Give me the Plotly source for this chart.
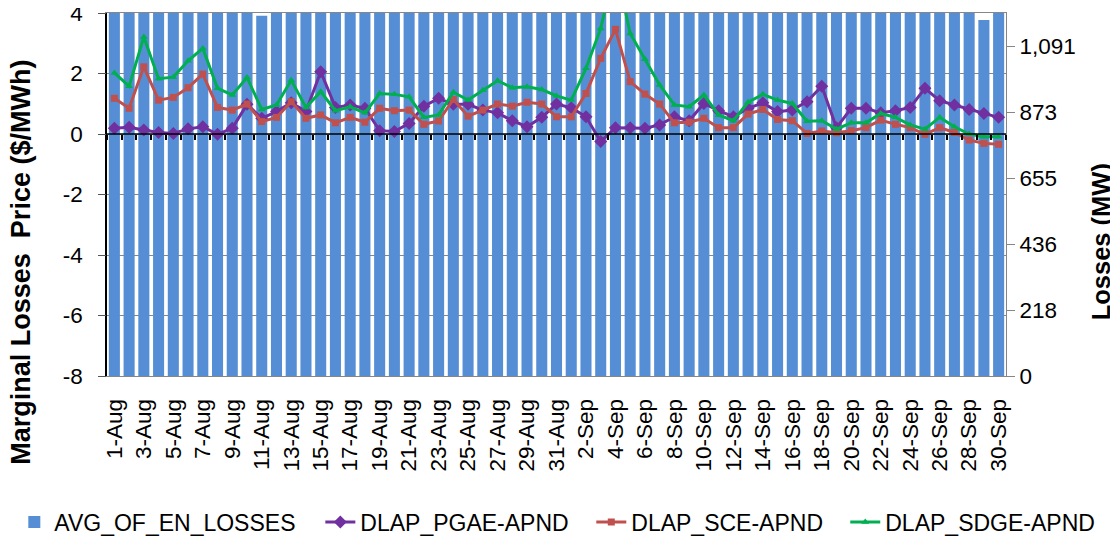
import plotly.graph_objects as go

dates = ["1-Aug", "2-Aug", "3-Aug", "4-Aug", "5-Aug", "6-Aug", "7-Aug", "8-Aug", "9-Aug", "10-Aug",
         "11-Aug", "12-Aug", "13-Aug", "14-Aug", "15-Aug", "16-Aug", "17-Aug", "18-Aug", "19-Aug", "20-Aug",
         "21-Aug", "22-Aug", "23-Aug", "24-Aug", "25-Aug", "26-Aug", "27-Aug", "28-Aug", "29-Aug", "30-Aug",
         "31-Aug", "1-Sep", "2-Sep", "3-Sep", "4-Sep", "5-Sep", "6-Sep", "7-Sep", "8-Sep", "9-Sep",
         "10-Sep", "11-Sep", "12-Sep", "13-Sep", "14-Sep", "15-Sep", "16-Sep", "17-Sep", "18-Sep", "19-Sep",
         "20-Sep", "21-Sep", "22-Sep", "23-Sep", "24-Sep", "25-Sep", "26-Sep", "27-Sep", "28-Sep", "29-Sep",
         "30-Sep"]

avg_losses = [1230, 1225, 1240, 1235, 1230, 1245, 1250, 1225, 1220, 1230,
              1191, 1215, 1230, 1220, 1240, 1225, 1230, 1220, 1215, 1225,
              1230, 1240, 1245, 1250, 1245, 1240, 1250, 1245, 1235, 1230,
              1225, 1240, 1255, 1260, 1265, 1250, 1240, 1230, 1225, 1220,
              1230, 1225, 1215, 1225, 1235, 1230, 1225, 1220, 1215, 1210,
              1220, 1225, 1230, 1225, 1220, 1215, 1210, 1205, 1205, 1177,
              1205]

pgae = [0.19, 0.22, 0.13, 0.05, 0.02, 0.17, 0.24, -0.01, 0.19, 0.98,
        0.52, 0.74, 1.03, 0.74, 2.06, 0.88, 0.96, 0.85, 0.11, 0.08,
        0.35, 0.92, 1.18, 0.98, 0.98, 0.79, 0.70, 0.44, 0.24, 0.55,
        0.99, 0.87, 0.57, -0.25, 0.21, 0.21, 0.19, 0.30, 0.57, 0.44,
        1.01, 0.77, 0.57, 0.85, 1.03, 0.74, 0.79, 1.07, 1.58, 0.21,
        0.85, 0.85, 0.70, 0.77, 0.88, 1.51, 1.10, 0.96, 0.81, 0.68,
        0.55]

sce = [1.18, 0.85, 2.22, 1.12, 1.21, 1.53, 1.98, 0.88, 0.79, 0.99,
       0.41, 0.55, 1.07, 0.52, 0.63, 0.37, 0.55, 0.39, 0.85, 0.77,
       0.79, 0.32, 0.43, 1.14, 0.59, 0.79, 0.99, 0.92, 1.05, 0.99,
       0.57, 0.57, 1.34, 2.50, 3.46, 1.73, 1.32, 0.99, 0.37, 0.39,
       0.52, 0.21, 0.21, 0.66, 0.81, 0.48, 0.44, 0.02, 0.10, 0.04,
       0.11, 0.21, 0.46, 0.32, 0.21, -0.01, 0.21, 0.05, -0.20, -0.31,
       -0.34]

sdge = [2.02, 1.58, 3.21, 1.83, 1.88, 2.42, 2.83, 1.51, 1.29, 1.87,
        0.81, 0.96, 1.78, 0.88, 1.40, 0.77, 0.90, 0.70, 1.34, 1.31,
        1.23, 0.55, 0.63, 1.38, 1.12, 1.45, 1.76, 1.53, 1.56, 1.47,
        1.26, 1.12, 2.17, 3.49, 5.60, 3.32, 2.47, 1.62, 0.96, 0.90,
        1.29, 0.63, 0.44, 1.05, 1.31, 1.12, 1.01, 0.42, 0.44, 0.16,
        0.37, 0.37, 0.68, 0.55, 0.30, 0.16, 0.55, 0.24, 0.00, -0.09,
        -0.09]

left_ticks = [-8, -6, -4, -2, 0, 2, 4]
left_ticktext = ["-8", "-6", "-4", "-2", "0", "2", "4"]
right_max = 1200
right_tickvals = [0, 218.18, 436.36, 654.55, 872.73, 1090.91]
right_ticktext = ["0", "218", "436", "655", "873", "1,091"]
x_label_dates = dates[::2]

FONT = "Arial, Liberation Sans, sans-serif"
TICK_FS = 22.5
LEG_FS = 23

fig = go.Figure()

fig.add_trace(go.Bar(
    x=dates, y=avg_losses, name="AVG_OF_EN_LOSSES", legend="legend",
    marker=dict(color="#558ED5", line=dict(width=0)),
    xaxis="x", yaxis="y",
))

series = [
    ("DLAP_PGAE-APND", pgae, "#7030A0", "diamond", 10, "legend2"),
    ("DLAP_SCE-APND", sce, "#C0504D", "square", 7, "legend3"),
    ("DLAP_SDGE-APND", sdge, "#00B050", "triangle-up", 7, "legend4"),
]
for name, vals, col, sym, size, leg in series:
    fig.add_trace(go.Scatter(
        x=dates, y=vals, name=name, mode="lines+markers", legend=leg,
        line=dict(color=col, width=3),
        marker=dict(symbol=sym, size=size, color=col),
        xaxis="x", yaxis="y2",
    ))

# invisible helper trace: carries the tick-only axes (category ticks on the zero line, left tick marks)
fig.add_trace(go.Scatter(
    x=dates, y=pgae, mode="lines", line=dict(width=0), opacity=0,
    showlegend=False, hoverinfo="skip", xaxis="x3", yaxis="y3",
))


def leg(x):
    return dict(orientation="h", x=x, xanchor="left", y=-0.402, yanchor="middle",
                font=dict(size=LEG_FS, family=FONT), bgcolor="rgba(0,0,0,0)")


# page body has an 8px margin: figure is sized/offset so the plot lands where the reference has it
fig.update_layout(
    width=1110, height=529, autosize=False,
    margin=dict(l=99, r=112, t=5, b=161, autoexpand=False),
    plot_bgcolor="white", paper_bgcolor="white",
    font=dict(family=FONT, size=TICK_FS, color="black"),
    bargap=0.25,
    showlegend=True,
    legend=leg(-0.1031), legend2=leg(0.2373), legend3=leg(0.5387), legend4=leg(0.8212),
    xaxis=dict(
        type="category", categoryorder="array", categoryarray=dates,
        range=[-0.5, len(dates) - 0.5], automargin=False,
        tickmode="array", tickvals=x_label_dates, ticktext=x_label_dates,
        tickangle=-90, ticks="outside", ticklen=13, tickcolor="rgba(0,0,0,0)",
        tickfont=dict(size=TICK_FS, family=FONT),
        showgrid=False, showline=True, linecolor="#868686", linewidth=1, mirror=True,
        zeroline=False,
    ),
    xaxis3=dict(
        type="category", categoryorder="array", categoryarray=dates,
        range=[-0.5, len(dates) - 0.5], overlaying="x", anchor="free", automargin=False,
        position=(0 - left_ticks[0]) / (left_ticks[-1] - left_ticks[0]),
        tickmode="linear", tick0=0, dtick=1, tickson="boundaries",
        ticks="outside", ticklen=5, tickwidth=1.5, tickcolor="black",
        showticklabels=False, showgrid=False, showline=False, zeroline=False,
    ),
    yaxis=dict(
        range=[0, right_max], side="right", automargin=False,
        tickmode="array", tickvals=right_tickvals, ticktext=right_ticktext,
        ticks="outside", ticklen=8, tickcolor="#868686",
        tickfont=dict(size=TICK_FS, family=FONT), ticklabeloverflow="allow",
        showgrid=False, showline=True, linecolor="#868686", linewidth=1,
        zeroline=False,
    ),
    yaxis2=dict(
        range=[left_ticks[0], left_ticks[-1]], overlaying="y", side="left", automargin=False,
        tickmode="array", tickvals=left_ticks, ticktext=left_ticktext,
        ticks="outside", ticklen=18, tickcolor="rgba(0,0,0,0)",
        tickfont=dict(size=TICK_FS, family=FONT), ticklabeloverflow="allow",
        showgrid=True, gridcolor="#868686", gridwidth=1,
        showline=True, linecolor="black", linewidth=1.5,
        zeroline=False,
    ),
    yaxis3=dict(
        range=[left_ticks[0], left_ticks[-1]], overlaying="y", side="left", automargin=False,
        anchor="x3",
        tickmode="array", tickvals=left_ticks,
        ticks="outside", ticklen=8, tickwidth=1, tickcolor="#555555",
        showticklabels=False, showgrid=False, showline=False, zeroline=False,
    ),
    shapes=[dict(type="line", xref="paper", x0=0, x1=1, yref="y2", y0=0, y1=0,
                 line=dict(color="black", width=1.5), layer="above")],
    annotations=[
        dict(text="<b>Marginal Losses\u00a0 Price ($/MWh)</b>", xref="paper", yref="paper",
             x=-0.096, y=0.314, xanchor="center", yanchor="middle", textangle=-90,
             showarrow=False, font=dict(size=27, family=FONT, color="black")),
        dict(text="<b>Losses (MW)</b>", xref="paper", yref="paper",
             x=1.106, y=0.369, xanchor="center", yanchor="middle", textangle=-90,
             showarrow=False, font=dict(size=25.5, family=FONT, color="black")),
    ],
)

fig.write_html("out.html")
